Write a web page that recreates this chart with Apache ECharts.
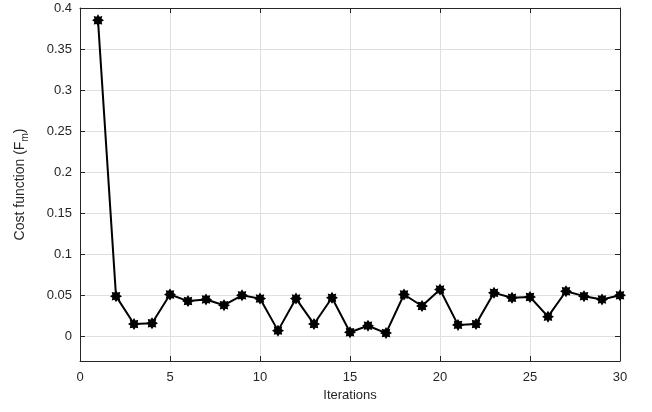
<!DOCTYPE html>
<html><head><meta charset="utf-8">
<script src="https://cdn.jsdelivr.net/npm/echarts@6/dist/echarts.min.js"></script>
<style>html,body{margin:0;padding:0;background:#fff}#c{width:652px;height:412px}</style>
</head><body><div id="c"></div>
<script>
const iterations = [1,2,3,4,5,6,7,8,9,10,11,12,13,14,15,16,17,18,19,20,21,22,23,24,25,26,27,28,29,30];
const costValues = [0.385,0.049,0.015,0.016,0.051,0.043,0.045,0.038,0.050,0.046,0.007,0.046,0.015,0.047,0.005,0.013,0.004,0.051,0.037,0.057,0.014,0.015,0.053,0.047,0.048,0.024,0.055,0.049,0.045,0.050];
const yTicks = [0,0.05,0.1,0.15,0.2,0.25,0.3,0.35,0.4];
const xTicks = [0,5,10,15,20,25,30];

function starPath(){
  let p = [];
  for (let k=0;k<16;k++){
    const a = k*Math.PI/8;
    const r = k%2===0 ? 1 : 0.66;
    p.push((k===0?'M':'L') + (r*Math.cos(a)).toFixed(3) + ' ' + (r*Math.sin(a)).toFixed(3));
  }
  return 'path://' + p.join(' ') + ' Z';
}
const axisColor = '#262626';
const fontFamily = 'Liberation Sans, Arial, sans-serif';
const chart = echarts.init(document.getElementById('c'));
chart.setOption({
  animation:false,
  grid:{left:80,right:32,top:8,bottom:51,containLabel:false},
  xAxis:[{
    type:'value',min:0,max:30,position:'bottom',
    axisLine:{show:true,onZero:false,lineStyle:{color:axisColor,width:1}},
    axisTick:{show:true,inside:true,length:5,customValues:xTicks,lineStyle:{color:axisColor}},
    axisLabel:{color:axisColor,fontSize:13,fontFamily:fontFamily,margin:10,customValues:xTicks},
    splitLine:{show:true,lineStyle:{color:'#dfdfdf',width:1}},
    name:'Iterations',nameLocation:'middle',nameGap:28,
    nameTextStyle:{color:axisColor,fontSize:13,fontFamily:fontFamily}
  },{
    type:'value',min:0,max:30,position:'top',
    axisLine:{show:true,onZero:false,lineStyle:{color:axisColor,width:1}},
    axisTick:{show:true,inside:true,length:5,customValues:xTicks,lineStyle:{color:axisColor}},
    axisLabel:{show:false},splitLine:{show:false}
  }],
  yAxis:[{
    type:'value',min:-0.03,max:0.4,position:'left',
    axisLine:{show:true,onZero:false,lineStyle:{color:axisColor,width:1}},
    axisTick:{show:true,inside:true,length:5,customValues:yTicks,lineStyle:{color:axisColor}},
    axisLabel:{color:axisColor,fontSize:13,fontFamily:fontFamily,margin:8,customValues:yTicks,
      formatter:v=>String(parseFloat(v.toFixed(2)))},
    splitLine:{show:true,lineStyle:{color:'#dfdfdf',width:1}},
    name:'Cost function (F{sub|m})',nameLocation:'middle',nameGap:50,nameRotate:90,
    nameTextStyle:{color:axisColor,fontSize:14,fontFamily:fontFamily,
      rich:{sub:{fontSize:10,color:axisColor,fontFamily:fontFamily,verticalAlign:'bottom',padding:[10,0,0,0]}}}
  },{
    type:'value',min:-0.03,max:0.4,position:'right',
    axisLine:{show:true,onZero:false,lineStyle:{color:axisColor,width:1}},
    axisTick:{show:true,inside:true,length:5,customValues:yTicks,lineStyle:{color:axisColor}},
    axisLabel:{show:false},splitLine:{show:false}
  }],
  series:[{
    type:'line',xAxisIndex:0,yAxisIndex:0,
    data:iterations.map((x,i)=>[x,costValues[i]]),
    lineStyle:{color:'#000',width:2},
    itemStyle:{color:'#000'},
    symbol:starPath(),symbolSize:12,showSymbol:true
  }]
});
</script></body></html>
